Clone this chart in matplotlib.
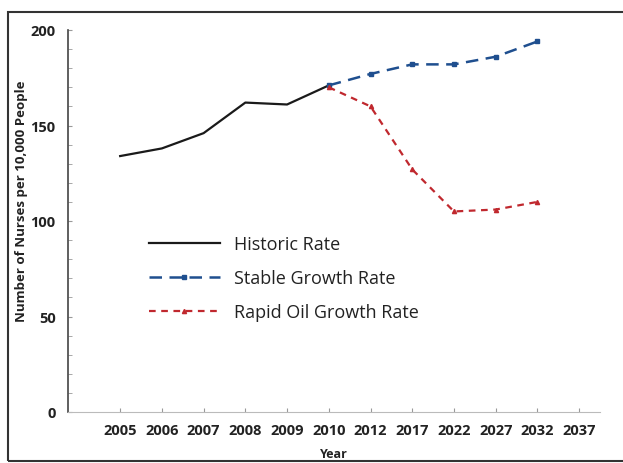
import numpy as np
import matplotlib.pyplot as plt
from matplotlib.patches import Rectangle

years = ["2005", "2006", "2007", "2008", "2009", "2010",
         "2012", "2017", "2022", "2027", "2032", "2037"]

historic_years = ["2005", "2006", "2007", "2008", "2009", "2010"]
historic = [134, 138, 146, 162, 161, 171]

future_years = ["2010", "2012", "2017", "2022", "2027", "2032"]
stable = [171, 177, 182, 182, 186, 194]
rapid_oil = [170, 160, 127, 105, 106, 110]

plt.rcParams['font.family'] = ['Open Sans', 'DejaVu Sans']

fig = plt.figure(figsize=(6.23, 4.64), dpi=100)
# outer frame around the chart
fig.patches.append(Rectangle((8 / 623, 2 / 464), 1.0, 449 / 464, transform=fig.transFigure,
                             fill=False, edgecolor='#333333', linewidth=1.5, zorder=0))

ax = fig.add_axes([68 / 623, 51 / 464, 532 / 623, 382 / 464])

pos = {y: i for i, y in enumerate(years)}
hx = [pos[y] for y in historic_years]
fx = [pos[y] for y in future_years]

ax.plot(hx, historic, color='#1a1a1a', linewidth=1.6, label='Historic Rate')
ax.plot(fx, stable, color='#1f4f8f', linewidth=1.8, linestyle=(0, (5, 3)),
        marker='s', markersize=3, label='Stable Growth Rate')
ax.plot(fx, rapid_oil, color='#c0282e', linewidth=1.6, linestyle=(0, (3, 2.5)),
        marker='^', markersize=3, label='Rapid Oil Growth Rate')

ax.set_xlim(-1.25, 11.5)
ax.set_ylim(0, 200)
ax.set_xticks(range(len(years)))
ax.set_xticklabels(years, fontsize=10.5, fontweight='bold', color='#222222')
ax.set_yticks([0, 50, 100, 150, 200])
ax.set_yticklabels(['0', '50', '100', '150', '200'], fontsize=10.5,
                   fontweight='bold', color='#222222')
ax.set_yticks(np.arange(0, 201, 10), minor=True)
ax.tick_params(axis='y', which='both', direction='in', length=3, color='#999999', pad=9)
ax.tick_params(axis='x', direction='in', length=3, color='#999999', pad=8)

for s in ['top', 'right']:
    ax.spines[s].set_visible(False)
ax.spines['left'].set_color('#444444')
ax.spines['left'].set_linewidth(1.2)
ax.spines['bottom'].set_color('#bbbbbb')

ax.set_xlabel('Year', fontsize=9, fontweight='bold', color='#222222', labelpad=7)
ax.set_ylabel('Number of Nurses per 10,000 People', fontsize=9.5, fontweight='bold',
              color='#222222')
ax.yaxis.set_label_coords(-0.075, 0.555)

leg = ax.legend(loc='upper left', bbox_to_anchor=(0.122, 0.505), frameon=False,
                fontsize=13, handlelength=3.9, labelspacing=0.88, handletextpad=0.8)
for t in leg.get_texts():
    t.set_color('#222222')

fig.savefig('out.png', dpi=100)
